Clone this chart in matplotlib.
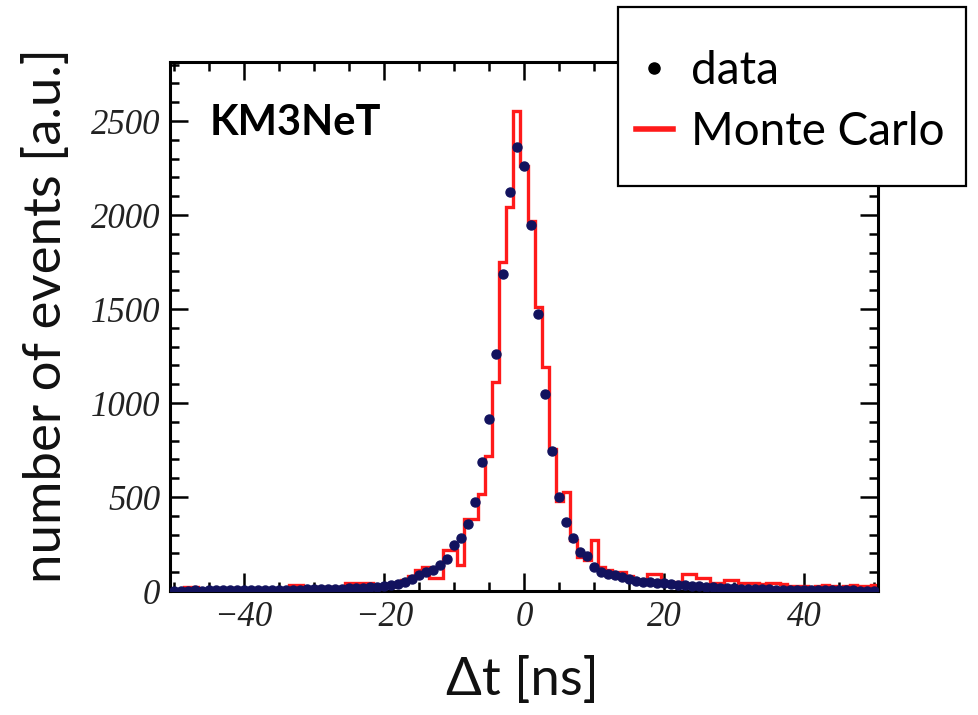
import numpy as np
import matplotlib
matplotlib.use("Agg")
import matplotlib.pyplot as plt
from matplotlib.lines import Line2D
from matplotlib.patches import Rectangle
from matplotlib.ticker import MultipleLocator

# bin centres of the time residual histogram [ns]
dt_centres = np.arange(-50, 51)
dt_edges = np.arange(-50.5, 51.0, 1.0)

# measured events per bin, t = -50 ... 50
data_counts = [
    2, 2, 2, 3, 2, 3, 3, 3, 3, 4,
    4, 4, 5, 5, 5, 6, 6, 7, 7, 8,
    8, 9, 10, 11, 12, 14, 15, 17, 20, 22,
    25, 30, 37, 50, 62, 85, 103, 112, 138, 168,
    245, 280, 356, 475, 685, 915, 1260, 1686, 2120, 2360,
    2262, 1947, 1473, 1048, 746, 500, 365, 280, 205, 188,
    126, 100, 90, 85, 75, 64, 55, 50, 46, 42,
    40, 36, 33, 30, 27, 25, 22, 20, 18, 16,
    14, 12, 11, 10, 9, 8, 7, 6, 6, 5,
    5, 4, 4, 4, 3, 3, 3, 3, 2, 2, 2,
]

# simulated events per bin, t = -50 ... 50
mc_counts = [
    0, 3, 20, 20, 3, 3, 3, 3, 5, 15,
    10, 3, 5, 5, 5, 5, 8, 32, 32, 10,
    10, 22, 22, 22, 22, 45, 45, 45, 45, 32,
    32, 35, 45, 60, 80, 112, 130, 70, 70, 218,
    218, 138, 383, 383, 516, 720, 1110, 1748, 2041, 2555,
    2262, 1970, 1509, 1190, 755, 480, 525, 270, 180, 165,
    270, 130, 110, 100, 100, 80, 60, 50, 90, 90,
    40, 35, 50, 90, 90, 70, 70, 45, 45, 60,
    60, 40, 40, 40, 35, 40, 40, 35, 25, 25,
    25, 20, 25, 30, 25, 20, 25, 30, 25, 25, 30,
]

W, H = 979, 715
fig = plt.figure(figsize=(W / 100, H / 100), dpi=100)
ax = fig.add_axes([170 / W, 1 - 591 / H, 708 / W, 529 / H])

ax.stairs(mc_counts, dt_edges, color="#ff1a1a", lw=2.4, zorder=2)
ax.plot(dt_centres, data_counts, ls="none", marker="o", ms=6.5,
        color="#12125e", zorder=3)

ax.set_xlim(-50.5, 50.5)
ax.set_ylim(0, 2814)

# ROOT-like frame: inward ticks on all sides
for sp in ax.spines.values():
    sp.set_linewidth(2.2)
    sp.set_color("black")
ax.xaxis.set_major_locator(MultipleLocator(20))
ax.xaxis.set_minor_locator(MultipleLocator(5))
ax.yaxis.set_major_locator(MultipleLocator(500))
ax.yaxis.set_minor_locator(MultipleLocator(100))
ax.tick_params(which="both", direction="in", top=True, right=True, width=1.8)
ax.tick_params(which="major", length=13)
ax.tick_params(which="minor", length=6.5)
ax.tick_params(axis="y", pad=7)
ax.tick_params(axis="x", pad=7)
for lab in ax.get_xticklabels() + ax.get_yticklabels():
    lab.set_fontfamily("Liberation Serif")
    lab.set_fontstyle("italic")
    lab.set_fontsize(25)
    lab.set_color("#222222")

ax.text(0.056, 0.885, "KM3NeT", transform=ax.transAxes, fontsize=30,
        fontweight="bold", family="Lato", va="center", ha="left")

fig.text(46 / W, 1 - 316 / H, "number of events [a.u.]", rotation=90,
         fontsize=38, family="Lato", ha="center", va="center", color="#111111")
fig.text(522 / W, 1 - 680 / H, "\u0394t [ns]", fontsize=38, family="Lato",
         ha="center", va="center", color="#111111")

# legend box sitting over the top right corner of the frame
fig.patches.append(Rectangle((618 / W, 1 - 186 / H), 348 / W, 179 / H,
                             transform=fig.transFigure, facecolor="white",
                             edgecolor="black", lw=1.6, zorder=4))
handles = [
    Line2D([], [], ls="none", marker="o", ms=8, color="black"),
    Line2D([], [], color="#ff1a1a", lw=4),
]
fig.legend(handles, ["data", "Monte Carlo"], loc="upper left",
           bbox_to_anchor=(636 / W, 1 - 50 / H), frameon=False,
           prop={"family": "Lato", "size": 33}, handlelength=0.8,
           handletextpad=0.4, labelspacing=0.42, borderpad=0,
           borderaxespad=0).set_zorder(5)

fig.savefig("out.png", dpi=100)
